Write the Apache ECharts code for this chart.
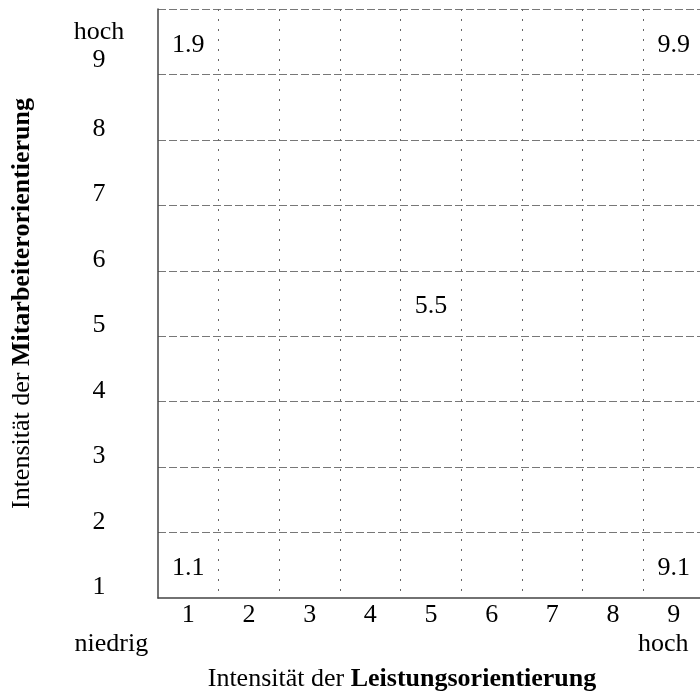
<!DOCTYPE html>
<html><head><meta charset="utf-8">
<script src="https://cdn.jsdelivr.net/npm/echarts@6/dist/echarts.min.js"></script>
<style>html,body{margin:0;padding:0;background:#fff}#c{width:700px;height:693px}</style>
</head><body><div id="c"></div>
<script>
// Categories (grid positions 1..9)
const xCategories = ['1','2','3','4','5','6','7','8','9'];
const yCategories = ['1','2','3','4','5','6','7','8','9'];
// Marked styles: Leistungsorientierung (x) / Mitarbeiterorientierung (y)
const styleLeistung    = [1, 9, 1, 9, 5];
const styleMitarbeiter = [9, 9, 1, 1, 5];
// End labels and titles
const xLowLabel  = 'niedrig';
const xHighLabel = 'hoch';
const yHighLabel = 'hoch';
const xTitle = ['Intensität der ', 'Leistungsorientierung'];
const yTitle = ['Intensität der ', 'Mitarbeiterorientierung'];

const FF = 'Liberation Serif';
const FS = 26;

const chart = echarts.init(document.getElementById('c'), null, {renderer: 'canvas'});
chart.setOption({
  animation: false,
  backgroundColor: '#fff',
  grid: {left: 158, width: 546, top: 9, height: 589, containLabel: false, outerBoundsMode: 'none'},
  xAxis: {
    type: 'category',
    data: xCategories,
    boundaryGap: true,
    name: xTitle[0] + '{b|' + xTitle[1] + '}',
    nameLocation: 'middle',
    nameGap: 68,
    nameTextStyle: {
      fontFamily: FF, fontSize: FS, color: '#000', lineHeight: 26,
      padding: [0, 58, 0, 0],
      rich: {b: {fontFamily: FF, fontSize: FS, fontWeight: 'bold', color: '#000'}}
    },
    axisLine: {show: true, lineStyle: {color: '#444', width: 1.5}},
    axisTick: {show: false},
    axisLabel: {
      interval: 0,
      margin: 3,
      fontFamily: FF, fontSize: FS, color: '#000',
      formatter: (v, i) => {
        if (i === 0) return '{n|' + v + '}\n{lo|' + xLowLabel + '}';
        if (i === xCategories.length - 1) return '{n|' + v + '}\n{hi|' + xHighLabel + '}';
        return '{n|' + v + '}';
      },
      rich: {
        n:  {fontFamily: FF, fontSize: FS, color: '#000', lineHeight: 29},
        lo: {fontFamily: FF, fontSize: FS, color: '#000', lineHeight: 29, padding: [0, 154, 0, 0]},
        hi: {fontFamily: FF, fontSize: FS, color: '#000', lineHeight: 29, padding: [0, 21, 0, 0]}
      }
    },
    splitLine: {show: true, interval: 0, showMinLine: false,
      lineStyle: {color: '#666', width: 1, type: [2, 8]}}
  },
  yAxis: {
    type: 'category',
    data: yCategories,
    boundaryGap: true,
    name: yTitle[0] + '{b|' + yTitle[1] + '}',
    nameLocation: 'middle',
    nameGap: 123,
    nameRotate: 90,
    nameTextStyle: {
      fontFamily: FF, fontSize: FS, color: '#000', lineHeight: 26,
      rich: {b: {fontFamily: FF, fontSize: FS, fontWeight: 'bold', color: '#000'}}
    },
    axisLine: {show: true, lineStyle: {color: '#444', width: 1.5}},
    axisTick: {show: false},
    axisLabel: {
      interval: 0,
      margin: 59,
      align: 'center',
      verticalAlign: 'middle',
      fontFamily: FF, fontSize: FS, color: '#000',
      formatter: (v) => {
        if (v === yCategories[yCategories.length - 1]) return '{sp| }\n{n|' + yHighLabel + '}\n{n|' + v + '}';
        return '{sp2| }\n{n|' + v + '}';
      },
      rich: {
        n:   {fontFamily: FF, fontSize: FS, color: '#000', lineHeight: 28.5},
        sp:  {fontSize: 1, lineHeight: 9},
        sp2: {fontSize: 1, lineHeight: 44}
      }
    },
    splitLine: {show: true, interval: 0, showMinLine: false,
      lineStyle: {color: '#777', width: 1, type: [8, 3]}}
  },
  series: [{
    type: 'scatter',
    data: styleLeistung.map((x, i) => [String(x), String(styleMitarbeiter[i])]),
    symbol: 'circle',
    symbolSize: 1,
    itemStyle: {color: 'rgba(0,0,0,0)', opacity: 1},
    label: {
      show: true,
      position: 'inside',
      offset: [0, 3],
      opacity: 1,
      fontFamily: FF, fontSize: FS, color: '#000',
      formatter: (p) => p.value[0] + '.' + p.value[1]
    },
    emphasis: {disabled: true}
  }]
});
</script>
</body></html>
